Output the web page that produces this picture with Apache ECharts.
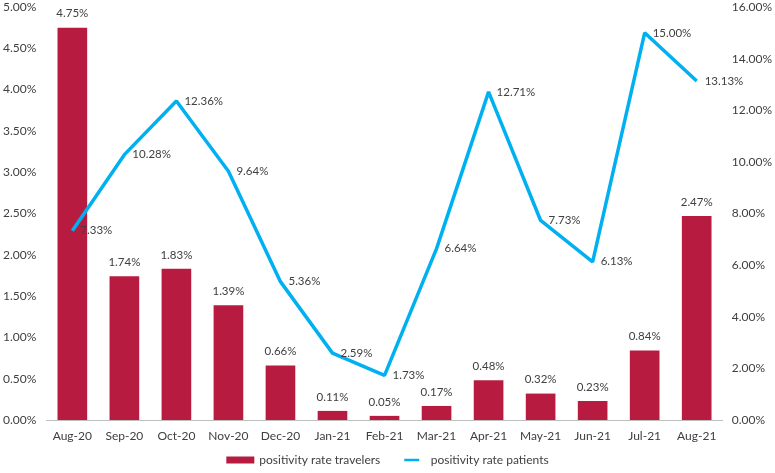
<!DOCTYPE html>
<html>
<head>
<meta charset="utf-8">
<script src="https://cdn.jsdelivr.net/npm/echarts@6/dist/echarts.min.js"></script>
<style>
  html, body { margin: 0; padding: 0; background: #fff; }
  #chart { width: 775px; height: 473px; }
</style>
</head>
<body>
<div id="chart"></div>
<script>
// months
const categories = ['Aug-20', 'Sep-20', 'Oct-20', 'Nov-20', 'Dec-20', 'Jan-21', 'Feb-21',
  'Mar-21', 'Apr-21', 'May-21', 'Jun-21', 'Jul-21', 'Aug-21'];
// bar series (left axis)
const travelers = [4.75, 1.74, 1.83, 1.39, 0.66, 0.11, 0.05, 0.17, 0.48, 0.32, 0.23, 0.84, 2.47];
// line series (right axis)
const patients = [7.33, 10.28, 12.36, 9.64, 5.36, 2.59, 1.73, 6.64, 12.71, 7.73, 6.13, 15.00, 13.13];

const font = 'Lato, "Open Sans", sans-serif';
const textColor = '#404040';

// thin line icon for legend (tiny corner dots stretch the bbox so the band stays thin)
const lineIcon = 'path://M0,0L0.01,0L0.01,0.01Z M0,4.7L30,4.7L30,9.3L0,9.3Z M0,13.99L0.01,13.99L0.01,14Z';

const chart = echarts.init(document.getElementById('chart'));

const option = {
  animation: false,
  textStyle: { fontFamily: font },
  grid: { left: 43, right: 50, top: 7, bottom: 53 },
  legend: {
    bottom: 2,
    left: 'center',
    itemGap: 24,
    itemWidth: 28,
    itemHeight: 7,
    textStyle: { color: textColor, fontSize: 12, fontFamily: font },
    data: [
      { name: 'positivity rate travelers', icon: 'rect' },
      { name: 'positivity rate patients', icon: lineIcon }
    ]
  },
  xAxis: {
    type: 'category',
    data: categories,
    axisLine: { lineStyle: { color: '#bfbfbf' } },
    axisTick: { show: false },
    axisLabel: { color: textColor, fontSize: 12, margin: 10, interval: 0 }
  },
  yAxis: [
    {
      type: 'value',
      min: 0,
      max: 5,
      interval: 0.5,
      splitLine: { show: false },
      axisLine: { show: false },
      axisLabel: {
        color: textColor, fontSize: 12, margin: 10,
        formatter: v => v.toFixed(2) + '%'
      }
    },
    {
      type: 'value',
      min: 0,
      max: 16,
      interval: 2,
      splitLine: { show: false },
      axisLine: { show: false },
      axisLabel: {
        color: textColor, fontSize: 12, margin: 9,
        formatter: v => v.toFixed(2) + '%'
      }
    }
  ],
  series: [
    {
      name: 'positivity rate travelers',
      type: 'bar',
      data: travelers,
      barWidth: '57%',
      itemStyle: { color: '#B71C40' },
      label: {
        show: true,
        position: 'top',
        distance: 8,
        color: textColor,
        fontSize: 11.5,
        formatter: p => p.value.toFixed(2) + '%'
      }
    },
    {
      name: 'positivity rate patients',
      type: 'line',
      yAxisIndex: 1,
      data: patients,
      symbol: 'circle',
      symbolSize: 0,
      lineStyle: { color: '#00B0F0', width: 3.5 },
      itemStyle: { color: '#00B0F0' },
      label: {
        show: true,
        position: 'right',
        distance: 8,
        color: textColor,
        fontSize: 11.5,
        formatter: p => p.value.toFixed(2) + '%'
      }
    }
  ]
};

chart.setOption(option);
</script>
</body>
</html>
